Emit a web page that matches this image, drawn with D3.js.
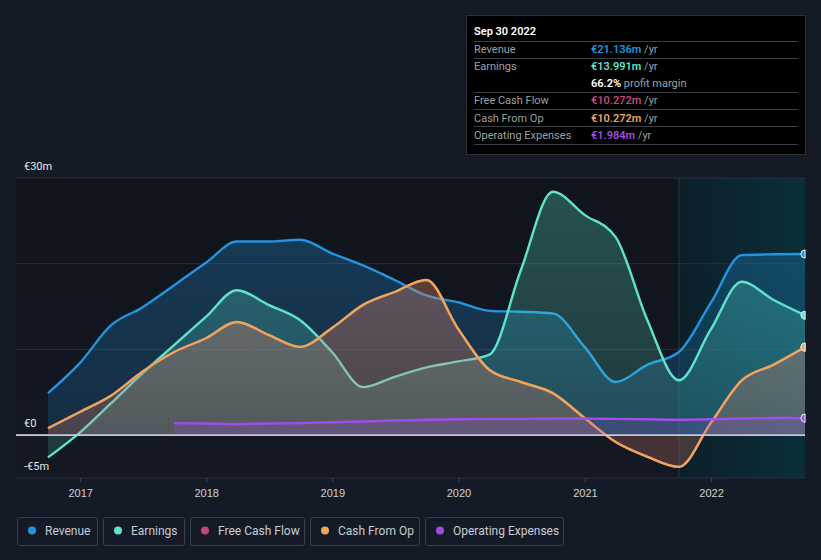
<!DOCTYPE html>
<html><head><meta charset="utf-8">
<script src="https://cdn.jsdelivr.net/npm/d3@7"></script>
<style>
html,body{margin:0;padding:0;background:#151b26;}
svg{display:block;font-family:Roboto,"Noto Sans",sans-serif;}
</style></head>
<body><svg id="c" width="821" height="560"></svg>
<script>
const dates = ["2016-09-30","2016-12-31","2017-03-31","2017-06-30","2017-09-30","2017-12-31","2018-03-31","2018-06-30","2018-09-30","2018-12-31","2019-03-31","2019-06-30","2019-09-30","2019-12-31","2020-03-31","2020-06-30","2020-09-30","2020-12-31","2021-03-31","2021-06-30","2021-09-30","2021-12-31","2022-03-31","2022-06-30","2022-09-30"];
const revenue = [4.9,8.4,12.8,14.9,17.5,20.1,22.6,22.6,22.8,21.2,19.8,18.1,16.3,15.5,14.5,14.4,14.2,10.3,6.2,8.2,9.7,15.4,21.0,21.1,21.136];
const earnings = [-2.6,0.3,3.7,7.2,10.5,13.8,16.9,15.2,13.4,9.7,5.6,6.8,7.9,8.6,9.4,19.3,28.4,25.7,23.1,13.5,6.4,12.3,17.9,15.8,13.991];
const freeCashFlow = [0.8,2.7,4.6,7.4,9.7,11.3,13.2,11.7,10.3,12.5,15.2,16.7,18.1,12.4,7.6,6.2,4.9,2.0,-0.8,-2.5,-3.7,1.4,6.4,8.2,10.272];
const cashFromOp = [0.8,2.7,4.6,7.4,9.7,11.3,13.2,11.7,10.3,12.5,15.2,16.7,18.1,12.4,7.6,6.2,4.9,2.0,-0.8,-2.5,-3.7,1.4,6.4,8.2,10.272];
const opex = [null,null,null,null,1.4,1.35,1.3,1.35,1.4,1.5,1.6,1.7,1.8,1.85,1.9,1.9,1.95,1.95,1.9,1.85,1.8,1.85,1.95,2.0,1.984];
const yTicks = [30,20,10,0,-5];
const yTickLabels = {30:"€30m",0:"€0","-5":"-€5m"};
const xTickYears = [2017,2018,2019,2020,2021,2022];
const legendNames = ["Revenue","Earnings","Free Cash Flow","Cash From Op","Operating Expenses"];
const colors = ["#2394df","#5fe3cb","#c2447e","#e9a85a","#a14de6"];
const tipTitle = "Sep 30 2022";
const tipRows = [
  {label:"Revenue", value:"€21.136m", unit:" /yr", color:colors[0]},
  {label:"Earnings", value:"€13.991m", unit:" /yr", color:colors[1]},
  {label:"", value:"66.2%", unit:" profit margin", color:"#ffffff"},
  {label:"Free Cash Flow", value:"€10.272m", unit:" /yr", color:colors[2]},
  {label:"Cash From Op", value:"€10.272m", unit:" /yr", color:colors[3]},
  {label:"Operating Expenses", value:"€1.984m", unit:" /yr", color:colors[4]}
];

const svg = d3.select("#c");
const parse = d3.timeParse("%Y-%m-%d");
const D = dates.map(parse);
const x = d3.scaleTime().domain([D[0], D[D.length-1]]).range([48, 805]);
const y = d3.scaleLinear().domain([-5,30]).range([478,178]);
const left = 16, right = 805;

const defs = svg.append("defs");
const bg = defs.append("linearGradient").attr("id","plotbg").attr("x1",0).attr("x2",0).attr("y1",0).attr("y2",1);
bg.append("stop").attr("offset",0).attr("stop-color","#10141c");
bg.append("stop").attr("offset",1).attr("stop-color","#131823");
svg.append("rect").attr("x",left).attr("y",178).attr("width",right-left).attr("height",300).attr("fill","url(#plotbg)");

const hg = defs.append("linearGradient").attr("id","hl").attr("x1",0).attr("x2",1).attr("y1",0).attr("y2",0);
hg.append("stop").attr("offset",0).attr("stop-color","#0c1f29");
hg.append("stop").attr("offset",1).attr("stop-color","#0a2f3a");
const hx = x(parse("2021-09-30"));
svg.append("rect").attr("x",hx).attr("y",178).attr("width",right-hx).attr("height",300).attr("fill","url(#hl)");
svg.append("line").attr("x1",hx).attr("x2",hx).attr("y1",178).attr("y2",478).attr("stroke","#1f3a44").attr("stroke-width",1);

yTicks.forEach(t=>{
  svg.append("line").attr("x1",left).attr("x2",right).attr("y1",y(t)).attr("y2",y(t))
    .attr("stroke", t===0 ? "#d8dde3" : "#2a303b").attr("stroke-width", t===0?1.2:1);
});
Object.keys(yTickLabels).forEach(k=>{
  const v=+k;
  svg.append("text").attr("x",24).attr("y",y(v)-8).attr("fill","#e6e6e6").attr("font-size",11).text(yTickLabels[k]);
});

const xa = d3.axisBottom(x).tickValues(xTickYears.map(yr=>new Date(yr,0,1))).tickFormat(d3.timeFormat("%Y")).tickSize(4);
const gx = svg.append("g").attr("transform","translate(0,478)").call(xa);
gx.select(".domain").remove();
gx.selectAll("line").attr("stroke","#3a404a");
gx.selectAll("text").attr("fill","#d0d0d0").attr("font-size",11).attr("dy","1.05em");

const series = [
  {name:"Revenue", vals:revenue, c:colors[0], op:0.32},
  {name:"Earnings", vals:earnings, c:colors[1], op:0.30},
  {name:"Free Cash Flow", vals:freeCashFlow, c:colors[2], op:0.22},
  {name:"Cash From Op", vals:cashFromOp, c:colors[3], op:0.28},
  {name:"Operating Expenses", vals:opex, c:colors[4], op:0.35}
];
series.forEach((s,i)=>{
  const g = defs.append("linearGradient").attr("id","g"+i).attr("gradientUnits","userSpaceOnUse")
    .attr("x1",0).attr("x2",0).attr("y1",178).attr("y2",y(0));
  g.append("stop").attr("offset",0).attr("stop-color",s.c).attr("stop-opacity",s.op);
  g.append("stop").attr("offset",1).attr("stop-color",s.c).attr("stop-opacity",s.op*0.55);
});
const pts = s => D.map((d,i)=>({d, v:s.vals[i]})).filter(p=>p.v!==null);
const area = d3.area().x(p=>x(p.d)).y0(y(0)).y1(p=>y(p.v)).curve(d3.curveMonotoneX);
const line = d3.line().x(p=>x(p.d)).y(p=>y(p.v)).curve(d3.curveMonotoneX);
series.forEach((s,i)=>{
  svg.append("path").attr("d",area(pts(s))).attr("fill","url(#g"+i+")");
  svg.append("path").attr("d",line(pts(s))).attr("fill","none").attr("stroke",s.c).attr("stroke-width",2.4);
});
svg.append("line").attr("x1",left).attr("x2",right).attr("y1",y(0)).attr("y2",y(0)).attr("stroke","#d8dde3").attr("stroke-opacity",0.85).attr("stroke-width",1.2);

svg.append("rect").attr("x",right).attr("y",170).attr("width",16).attr("height",320).attr("fill","#151b26");
series.forEach((s,i)=>{
  const p = pts(s); const last = p[p.length-1];
  svg.append("circle").attr("cx",x(last.d)).attr("cy",y(last.v)).attr("r",4).attr("fill",s.c).attr("stroke","#cfe8f0").attr("stroke-width",1);
});
svg.append("rect").attr("x",right+0.5).attr("y",170).attr("width",16).attr("height",320).attr("fill","#151b26");
series.forEach((s,i)=>{
  const p = pts(s); const last = p[p.length-1];
  svg.append("path").attr("d",d3.arc()({innerRadius:0,outerRadius:4,startAngle:Math.PI,endAngle:2*Math.PI}))
    .attr("transform",`translate(${x(last.d)},${y(last.v)})`).attr("fill",s.c).attr("stroke","#cfe8f0").attr("stroke-width",1);
});

const tip = svg.append("g");
tip.append("rect").attr("x",466.5).attr("y",15.5).attr("width",339).attr("height",139).attr("fill","#000").attr("stroke","#2a2f38");
tip.append("text").attr("x",474).attr("y",35).attr("fill","#fff").attr("font-size",11).attr("font-weight",600).text(tipTitle);
const rowY = [49,66,83,100,118,135];
const sepY = [41,58,92,109,126,144];
sepY.forEach(sy=>tip.append("line").attr("x1",474).attr("x2",798).attr("y1",sy+0.5).attr("y2",sy+0.5).attr("stroke","#3a3f48"));
tipRows.forEach((r,i)=>{
  tip.append("text").attr("x",474).attr("y",rowY[i]+4).attr("fill","#9aa0a6").attr("font-size",11).text(r.label);
  const t = tip.append("text").attr("x",591).attr("y",rowY[i]+4).attr("font-size",11);
  t.append("tspan").attr("fill",r.color).attr("font-weight",600).text(r.value);
  t.append("tspan").attr("fill","#9aa0a6").text(r.unit);
});

const lg = svg.append("g");
const boxX = [17,103,190,310,425];
const boxW = [80,81,114,109,138];
legendNames.forEach((n,i)=>{
  lg.append("rect").attr("x",boxX[i]+0.5).attr("y",517.5).attr("width",boxW[i]).attr("height",28).attr("rx",2)
    .attr("fill","#151b26").attr("stroke","#3a404b");
  lg.append("circle").attr("cx",boxX[i]+15).attr("cy",530.5).attr("r",4).attr("fill",colors[i]);
  lg.append("text").attr("x",boxX[i]+28).attr("y",534.5).attr("fill","#c8ccd2").attr("font-size",12).text(n);
});
</script></body></html>
